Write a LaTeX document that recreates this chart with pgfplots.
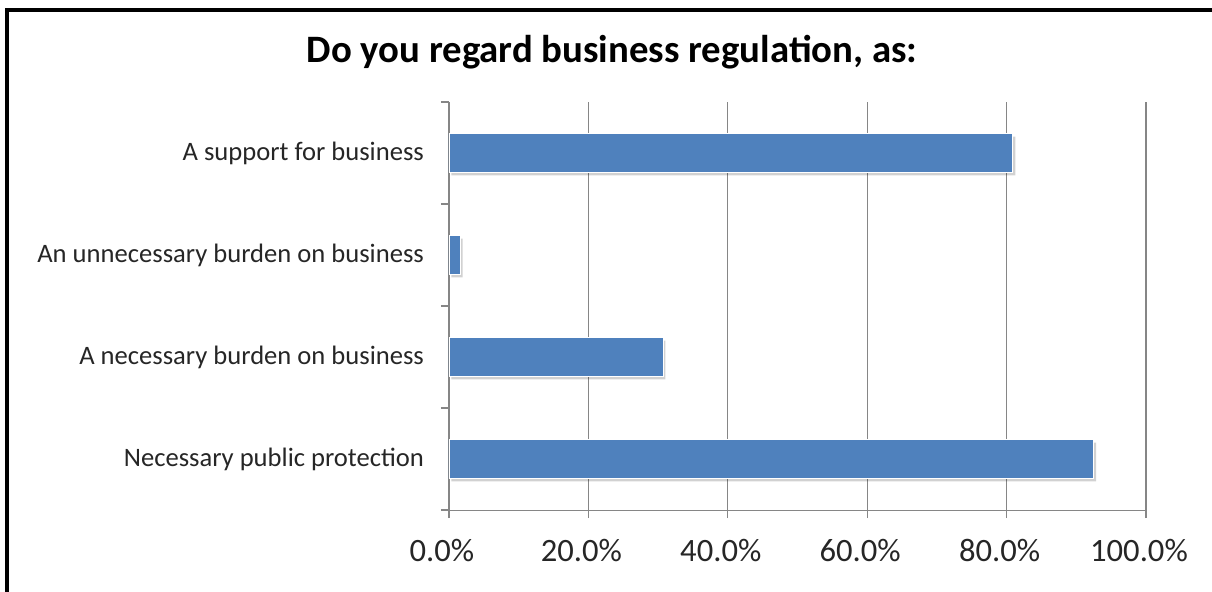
\documentclass[border=0pt]{standalone}
\usepackage{pgfplots}
\pgfplotsset{compat=1.18}
\usepackage{fontspec}
\setmainfont{Carlito}
\definecolor{barblue}{HTML}{4F81BD}
\definecolor{gridgray}{HTML}{868686}
\begin{document}
\begin{tikzpicture}
\begin{axis}[
  at={(0,0)}, anchor=south west,
  scale only axis, width=348.5pt, height=204pt,
  xbar, bar width=0.38,
  xmin=0, xmax=100, ymin=-0.5, ymax=3.5,
  axis x line*=bottom, axis y line*=left,
  axis line style={gridgray, -},
  xtick={0,20,40,60,80,100},
  xticklabels={0.0\%,20.0\%,40.0\%,60.0\%,80.0\%,100.0\%},
  xmajorgrids, grid style={gridgray, line width=0.6pt},
  tick align=outside,
  major tick length=4pt,
  tick style={gridgray, line width=0.6pt},
  ytick={0,1,2,3},
  yticklabels={Necessary public protection, A necessary burden on business, An unnecessary burden on business, A support for business},
  ytick style={draw=none},
  extra y ticks={-0.5,0.5,1.5,2.5,3.5},
  extra y tick labels={},
  extra y tick style={ytick style={draw=gridgray}, grid=none},
  yticklabel style={font=\fontsize{13.3}{15}\selectfont, text=black!85, xshift=-5pt},
  xticklabel style={font=\fontsize{16.3}{18}\selectfont, text=black!85, yshift=-7pt, xshift=-3.5pt},
  /pgf/number format/assume math mode=true,
]
\addplot[fill=barblue, draw=white, line width=0.4pt,
  preaction={fill=black, opacity=0.18, draw=none, transform canvas={xshift=1.2pt, yshift=-1.5pt}}]
  coordinates {(92.5,0) (30.7,1) (1.6,2) (80.9,3)};
\end{axis}
\node[font=\fontsize{19.4}{22}\selectfont\bfseries] at (81.5pt,229pt) {Do you regard business regulation, as:};
\draw[line width=2pt] (-221pt,-60pt) -- (-221pt,250pt) -- (400pt,250pt);
\pgfresetboundingbox
\path[use as bounding box] (-224.5pt,-40.5pt) rectangle (381.5pt,255pt);
\end{tikzpicture}
\end{document}
